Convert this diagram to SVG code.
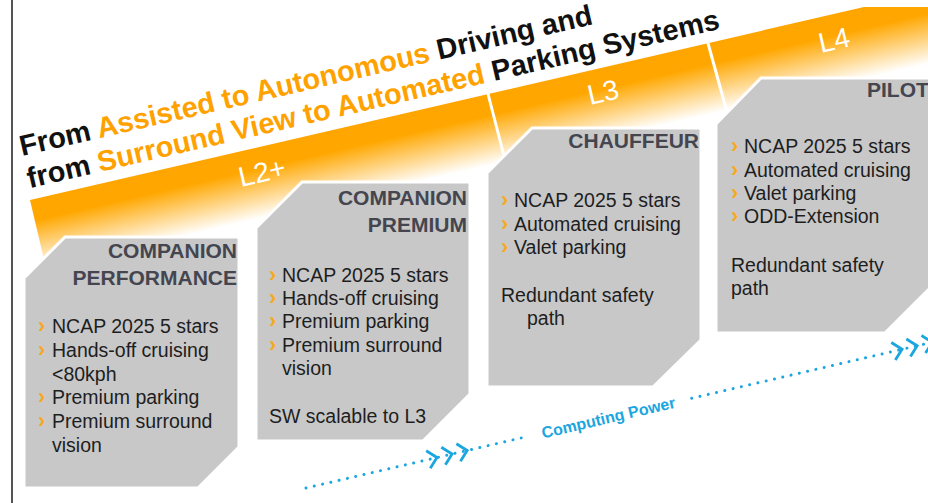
<svg xmlns="http://www.w3.org/2000/svg" width="928" height="503" viewBox="0 0 928 503">
  <defs>
    <linearGradient id="bandFade" gradientUnits="userSpaceOnUse" x1="30" y1="200" x2="45.8" y2="268.2">
      <stop offset="0" stop-color="#FFA500"/>
      <stop offset="0.3" stop-color="#FFA700"/>
      <stop offset="1" stop-color="#FFFFFF"/>
    </linearGradient>
    <polyline id="chev" points="-9,-9 0,0 -9,9" fill="none" stroke="#1BA6E0" stroke-width="2.8" stroke-linejoin="miter"/>
  </defs>
  <style>
    text { font-family: "Liberation Sans", Arial, sans-serif; }
    .box { fill: #C8C8C8; stroke: #FFFFFF; stroke-width: 3; }
    .head { font-size: 21px; font-weight: bold; fill: #44454F; text-anchor: end; }
    .item { font-size: 19.5px; fill: #1E1E1E; }
    .bul { font-size: 22px; font-weight: bold; fill: #F7A823; }
    .lvl { font-size: 28px; fill: #FFFFFF; }
    .title { font-size: 28.9px; font-weight: bold; fill: #111111; }
    .hl { fill: #FFA200; }
    .divider { stroke: #FFFFFF; stroke-width: 3; }
    .dots { stroke: #1BA6E0; stroke-width: 3; stroke-linecap: round; stroke-dasharray: 0 8.5; fill: none; }
    .cp { font-size: 16px; font-weight: bold; fill: #1BA6E0; text-anchor: middle; }
  </style>

  <rect width="928" height="503" fill="#FFFFFF"/>
  <!-- left frame rule -->
  <line x1="12" y1="0" x2="12" y2="503" stroke="#555555" stroke-width="2"/>

  <!-- rising level band -->
  <g id="band">
    <polygon points="30,200 864,7 935,7 935,62 46,268" fill="url(#bandFade)"/>
    <line class="divider" x1="486" y1="86" x2="504" y2="156"/>
    <line class="divider" x1="706" y1="36" x2="727" y2="112"/>
    <text class="lvl" transform="translate(241,187) rotate(-13)">L2+</text>
    <text class="lvl" transform="translate(590,105) rotate(-13)">L3</text>
    <text class="lvl" transform="translate(821,53) rotate(-13)">L4</text>
  </g>

  <!-- title -->
  <g id="title" transform="translate(22,156) rotate(-13)">
    <text class="title" x="0" y="0">From <tspan class="hl">Assisted to Autonomous</tspan> Driving and</text>
    <text class="title" x="0" y="33">from <tspan class="hl">Surround View to Automated</tspan> Parking Systems</text>
  </g>

  <!-- L2+ companion performance -->
  <g id="companion-performance">
    <polygon class="box" points="65,237 239,237 239,447 198,488 24,488 24,278"/>
    <text class="head" x="237" y="258">COMPANION</text>
    <text class="head" x="237" y="285">PERFORMANCE</text>
    <text class="bul" x="38" y="333">›</text>
    <text class="item" x="52" y="333">NCAP 2025 5 stars</text>
    <text class="bul" x="38" y="357">›</text>
    <text class="item" x="52" y="357">Hands-off cruising</text>
    <text class="item" x="52" y="381">&lt;80kph</text>
    <text class="bul" x="38" y="404">›</text>
    <text class="item" x="52" y="404">Premium parking</text>
    <text class="bul" x="38" y="428">›</text>
    <text class="item" x="52" y="428">Premium surround</text>
    <text class="item" x="52" y="452">vision</text>
  </g>

  <!-- L2+ companion premium -->
  <g id="companion-premium">
    <polygon class="box" points="302,182 470,182 470,394 423,441 256,441 256,228"/>
    <text class="head" x="467" y="205">COMPANION</text>
    <text class="head" x="467" y="232">PREMIUM</text>
    <text class="bul" x="269" y="282">›</text>
    <text class="item" x="282" y="282">NCAP 2025 5 stars</text>
    <text class="bul" x="269" y="305">›</text>
    <text class="item" x="282" y="305">Hands-off cruising</text>
    <text class="bul" x="269" y="328">›</text>
    <text class="item" x="282" y="328">Premium parking</text>
    <text class="bul" x="269" y="352">›</text>
    <text class="item" x="282" y="352">Premium surround</text>
    <text class="item" x="282" y="375">vision</text>
    <text class="item" x="269" y="423">SW scalable to L3</text>
  </g>

  <!-- L3 chauffeur -->
  <g id="chauffeur">
    <polygon class="box" points="532,128 701,128 701,340 653,387 487,387 487,173"/>
    <text class="head" x="699" y="148">CHAUFFEUR</text>
    <text class="bul" x="501" y="207">›</text>
    <text class="item" x="514" y="207">NCAP 2025 5 stars</text>
    <text class="bul" x="501" y="231">›</text>
    <text class="item" x="514" y="231">Automated cruising</text>
    <text class="bul" x="501" y="254">›</text>
    <text class="item" x="514" y="254">Valet parking</text>
    <text class="item" x="501" y="302">Redundant safety</text>
    <text class="item" x="527" y="325">path</text>
  </g>

  <!-- L4 pilot -->
  <g id="pilot">
    <polygon class="box" points="761,78 935,78 935,283 885,333 716,333 716,124"/>
    <text class="head" x="867" y="97" style="text-anchor:start">PILOT</text>
    <text class="bul" x="731" y="153">›</text>
    <text class="item" x="744" y="153">NCAP 2025 5 stars</text>
    <text class="bul" x="731" y="177">›</text>
    <text class="item" x="744" y="177">Automated cruising</text>
    <text class="bul" x="731" y="200">›</text>
    <text class="item" x="744" y="200">Valet parking</text>
    <text class="bul" x="731" y="223">›</text>
    <text class="item" x="744" y="223">ODD-Extension</text>
    <text class="item" x="731" y="272">Redundant safety</text>
    <text class="item" x="731" y="295">path</text>
  </g>

  <!-- computing power trend arrow -->
  <g id="connectors">
    <g id="computing-power" transform="translate(306,488) rotate(-13.1)">
      <line class="dots" x1="0" y1="0" x2="228" y2="0"/>
      <line class="dots" x1="396" y1="0" x2="660" y2="0"/>
      <use href="#chev" x="134.5" y="0"/>
      <use href="#chev" x="150" y="0"/>
      <use href="#chev" x="165.5" y="0"/>
      <use href="#chev" x="612" y="0"/>
      <use href="#chev" x="627.5" y="0"/>
      <use href="#chev" x="643" y="0"/>
      <text class="cp" x="310.5" y="5.5">Computing Power</text>
    </g>
  </g>
</svg>
